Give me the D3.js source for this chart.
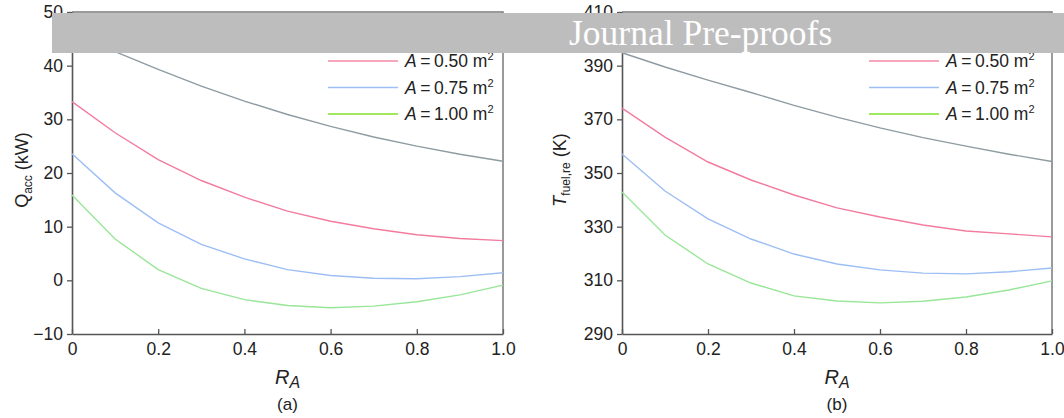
<!DOCTYPE html>
<html>
<head>
<meta charset="utf-8">
<script src="https://cdn.jsdelivr.net/npm/d3@7"></script>
<style>
  body { margin: 0; background: #fff; }
  svg text { font-family: "Liberation Sans", Arial, sans-serif; fill: #222; }
</style>
</head>
<body>
<div id="chart"></div>
<script>
// x values (R_A)
const ratios = [0, 0.1, 0.2, 0.3, 0.4, 0.5, 0.6, 0.7, 0.8, 0.9, 1.0];

// panel (a): Q_acc (kW)
const qGray  = [46.5, 42.6, 39.3, 36.2, 33.4, 30.9, 28.7, 26.7, 25.0, 23.5, 22.2];
const qPink  = [33.3, 27.5, 22.5, 18.6, 15.5, 12.9, 11.0, 9.6, 8.5, 7.8, 7.4];
const qBlue  = [23.6, 16.3, 10.7, 6.7, 4.0, 2.0, 0.9, 0.4, 0.3, 0.7, 1.4];
const qGreen = [15.9, 7.7, 2.0, -1.5, -3.6, -4.7, -5.1, -4.8, -4.0, -2.7, -0.9];

// panel (b): T_fuel,re (K)
const tGray  = [394.8, 389.5, 384.6, 380.0, 375.2, 370.8, 366.8, 363.2, 360.0, 357.0, 354.3];
const tPink  = [374.2, 363.4, 354.1, 347.4, 341.8, 337.0, 333.6, 330.6, 328.4, 327.3, 326.2];
const tBlue  = [357.1, 343.3, 332.9, 325.4, 319.8, 316.1, 313.9, 312.7, 312.4, 313.2, 314.6];
const tGreen = [342.9, 326.9, 316.1, 309.0, 304.2, 302.3, 301.6, 302.2, 303.8, 306.4, 309.8];

const xTicks = [0, 0.2, 0.4, 0.6, 0.8, 1.0];
const qTicks = [-10, 0, 10, 20, 30, 40, 50];
const tTicks = [290, 310, 330, 350, 370, 390, 410];
const legendLabels = ["0.50", "0.75", "1.00"];

const colors = { gray: "#8e9ca2", pink: "#f27b9e", blue: "#9cbef4", green: "#98e698" };
const legendColors = ["#f58aa6", "#9cc0f6", "#7fe02a"];

const W = 1064, H = 418;
const svg = d3.select("#chart").append("svg")
  .attr("width", W).attr("height", H);

const plotTop = 12, plotBottom = 334;

function drawPanel(opts) {
  const x = d3.scaleLinear().domain([0, 1]).range([opts.left, opts.right]);
  const y = d3.scaleLinear().domain(opts.yDomain).range([plotBottom, plotTop]);
  const g = svg.append("g");

  // frame top and right
  g.append("path")
    .attr("d", `M${opts.left},${plotTop}H${opts.right}V${plotBottom}`)
    .attr("fill", "none").attr("stroke", "#7a7a7a").attr("stroke-width", 1.5);

  const fmtY = d => d < 0 ? "\u2212" + Math.abs(d) : String(d);
  const yAxis = g.append("g")
    .attr("transform", `translate(${opts.left},0)`)
    .call(d3.axisLeft(y).tickValues(opts.yTicks).tickSize(5).tickSizeOuter(0).tickPadding(4).tickFormat(fmtY));
  yAxis.selectAll("text").style("font-size", "17.5px").attr("fill", "#222");

  const xAxis = g.append("g")
    .attr("transform", `translate(0,${plotBottom})`)
    .call(d3.axisBottom(x).tickValues(xTicks).tickSize(-5).tickSizeOuter(0).tickPadding(9)
      .tickFormat(d => d === 0 ? "0" : d3.format(".1f")(d)));
  xAxis.selectAll("text").style("font-size", "17.5px").attr("fill", "#222");

  [yAxis, xAxis].forEach(a => {
    a.select(".domain").attr("stroke", "#555").attr("stroke-width", 1.6);
    a.selectAll(".tick line").attr("stroke", "#555").attr("stroke-width", 1.3);
  });

  const line = d3.line().x((d, i) => x(ratios[i])).y(d => y(d));
  opts.series.forEach(s => {
    g.append("path").datum(s.values)
      .attr("fill", "none").attr("stroke", s.color).attr("stroke-width", 1.4)
      .attr("d", line);
  });

  // legend
  legendLabels.forEach((lab, i) => {
    const ly = 61 + i * 26.5;
    g.append("line")
      .attr("x1", opts.legendX).attr("x2", opts.legendX + 70)
      .attr("y1", ly).attr("y2", ly)
      .attr("stroke", legendColors[i]).attr("stroke-width", 1.4);
    const t = g.append("text")
      .attr("x", opts.legendX + 77).attr("y", ly + 6)
      .style("font-size", "17.5px");
    t.append("tspan").style("font-style", "italic").text("A");
    t.append("tspan").text("\u2009=\u2009" + lab + " m");
    t.append("tspan").attr("dy", -7).style("font-size", "11px").text("2");
  });

  // axis titles
  const cx = (opts.left + opts.right) / 2;
  const xt = g.append("text").attr("x", cx).attr("y", 384)
    .attr("text-anchor", "middle").style("font-size", "20px");
  xt.append("tspan").style("font-style", "italic").text("R");
  xt.append("tspan").attr("dy", 4).style("font-style", "italic").style("font-size", "16px").text("A");

  g.append("text").attr("x", cx).attr("y", 410)
    .attr("text-anchor", "middle").style("font-size", "17px").text(opts.tag);

  const yt = g.append("text")
    .attr("transform", `translate(${opts.titleX},${(plotTop + plotBottom) / 2 - 3}) rotate(-90)`)
    .attr("text-anchor", "middle").style("font-size", "18px");
  yt.append("tspan").style("font-style", opts.italicSym ? "italic" : "normal").text(opts.sym);
  yt.append("tspan").attr("dy", 4).style("font-size", "12px").text(opts.sub);
  yt.append("tspan").attr("dy", -4).text(" " + opts.unit);
}

drawPanel({
  left: 72, right: 503, yDomain: [-10, 50], yTicks: qTicks,
  series: [
    { values: qGray, color: colors.gray },
    { values: qPink, color: colors.pink },
    { values: qBlue, color: colors.blue },
    { values: qGreen, color: colors.green }
  ],
  legendX: 328, tag: "(a)", titleX: 28, sym: "Q", sub: "acc", unit: "(kW)", italicSym: false
});

drawPanel({
  left: 622, right: 1052, yDomain: [290, 410], yTicks: tTicks,
  series: [
    { values: tGray, color: colors.gray },
    { values: tPink, color: colors.pink },
    { values: tBlue, color: colors.blue },
    { values: tGreen, color: colors.green }
  ],
  legendX: 869, tag: "(b)", titleX: 566, sym: "T", sub: "fuel,re", unit: "(K)", italicSym: true
});

// watermark banner
svg.append("rect").attr("x", 52).attr("y", 13).attr("width", W - 52).attr("height", 40)
  .attr("fill", "#bdbdbd");
svg.append("text").attr("x", 569).attr("y", 45)
  .style("font-family", "'Liberation Serif', 'Times New Roman', serif")
  .style("font-size", "35.5px").style("fill", "#fff")
  .text("Journal Pre-proofs");
</script>
</body>
</html>
